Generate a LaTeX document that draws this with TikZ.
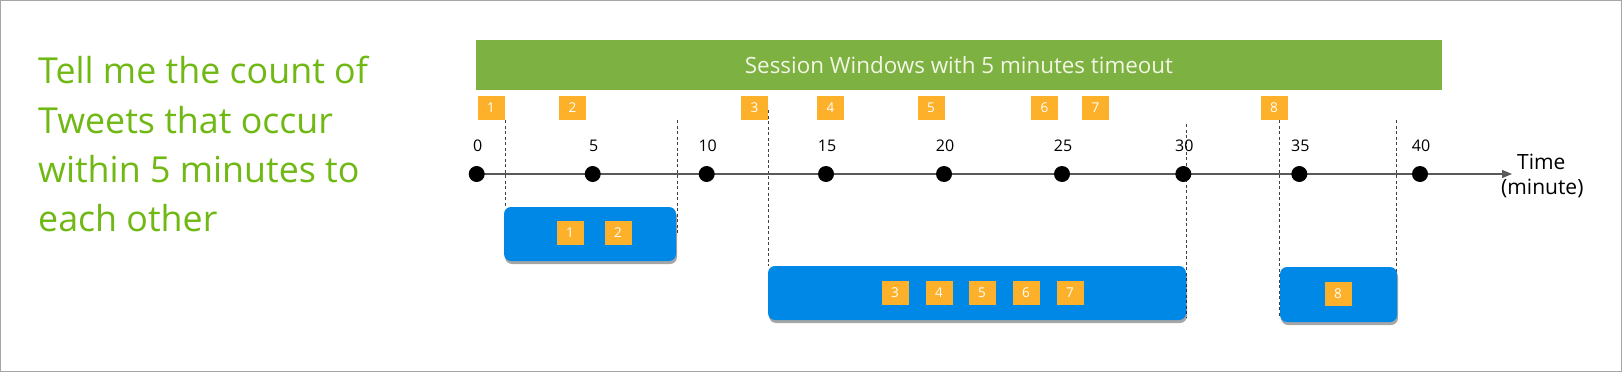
\documentclass[tikz,border=0pt]{standalone}
\usepackage{fontspec}
\setmainfont{Open Sans}
\usetikzlibrary{positioning,shadows,arrows.meta}

\definecolor{barGreen}{RGB}{125,177,65}
\definecolor{askGreen}{RGB}{112,184,20}
\definecolor{tweetOrange}{RGB}{253,177,42}
\definecolor{winBlue}{RGB}{0,136,230}

\tikzset{
  every node/.style={inner sep=0pt},
  tweet/.style={fill=tweetOrange, minimum width=27pt, minimum height=24pt,
    text=white, font=\fontsize{13.5}{13.5}\selectfont},
  window/.style={fill=winBlue, rounded corners=7pt,
    drop shadow={shadow xshift=1pt, shadow yshift=-3pt, opacity=0.35, fill=black}},
  tick/.style={circle, fill=black, minimum size=16pt},
  ticklabel/.style={font=\fontsize{16}{16}\selectfont},
  bound/.style={dash pattern=on 3pt off 2.5pt, line width=0.7pt, black!75},
  axis/.style={-{Triangle[length=10pt,width=8pt]}, line width=1.3pt, black!65},
  ask/.style={anchor=base west, text=askGreen, font=\fontsize{35.8}{35.8}\selectfont},
}

\begin{document}
\begin{tikzpicture}[x=1pt,y=-1pt]
  \useasboundingbox (0,0) rectangle (1622,372);
  \draw[gray!70, line width=1pt] (0.5,0.5) rectangle (1621.5,371.5);

  % question
  \node[ask] (q1) at (38,83)  {Tell me the count of};
  \node[ask] (q2) at (38,133) {Tweets that occur};
  \node[ask] (q3) at (38,182) {within 5 minutes to};
  \node[ask] (q4) at (38,231) {each other};

  % session bar
  \node[fill=barGreen, minimum width=966pt, minimum height=50pt,
    text={rgb,255:red,242;green,246;blue,228}, font=\fontsize{22.4}{22.4}\selectfont]
    (bar) at (959,65) {Session Windows with 5 minutes timeout};

  % tweets on the time line
  \node[tweet] (e1) at (491,108)    {1};
  \node[tweet] (e2) at (572.5,108)  {2};
  \node[tweet] (e3) at (754.5,108)  {3};
  \node[tweet] (e4) at (830.5,108)  {4};
  \node[tweet] (e5) at (931,108)    {5};
  \node[tweet] (e6) at (1044.5,108) {6};
  \node[tweet] (e7) at (1095.5,108) {7};
  \node[tweet] (e8) at (1274,108)   {8};

  % dashed window bounds
  \draw[bound] (505.7,120) -- (505.7,207);
  \draw[bound] (677.7,120) -- (677.7,234);
  \draw[bound] (768,110) -- (768,266);
  \draw[bound] (1186.7,124) -- (1186.7,318);
  \draw[bound] (1279.3,120) -- (1279.3,318);
  \draw[bound] (1396,120) -- (1396,318);

  % time axis
  \coordinate (tend) at (1512,174);
  \draw[axis] (476.7,174) -- (tend);
  \foreach \t/\x in {0/476.7,5/592.7,10/706.7,15/826,20/944,25/1062,30/1183.3,35/1299.3,40/1420}{
    \node[tick] (t\t) at (\x,174) {};
    \node[ticklabel] (l\t) at (\x+1,146) {\t};
  }
  \node[font=\fontsize{21}{21}\selectfont, anchor=west] (tlab) at (1517,162) {Time};
  \node[font=\fontsize{21}{21}\selectfont, below=9pt of tlab.south, xshift=1pt] (tunit) {(minute)};

  % session windows
  \node[window, minimum width=172pt, minimum height=54pt] (w1) at (590,234) {};
  \node[window, minimum width=418pt, minimum height=54pt] (w2) at (977,293) {};
  \node[window, minimum width=117pt, minimum height=55pt] (w3) at (1338.5,294.5) {};

  \node[tweet] (w1e1) at (570,233) {1};
  \node[tweet] (w1e2) at (618,233) {2};
  \node[tweet] (w2e3) at (895,293)  {3};
  \node[tweet] (w2e4) at (939,293)  {4};
  \node[tweet] (w2e5) at (982,293)  {5};
  \node[tweet] (w2e6) at (1026,293) {6};
  \node[tweet] (w2e7) at (1070,293) {7};
  \node[tweet] (w3e8) at (1338,294) {8};
\end{tikzpicture}
\end{document}
